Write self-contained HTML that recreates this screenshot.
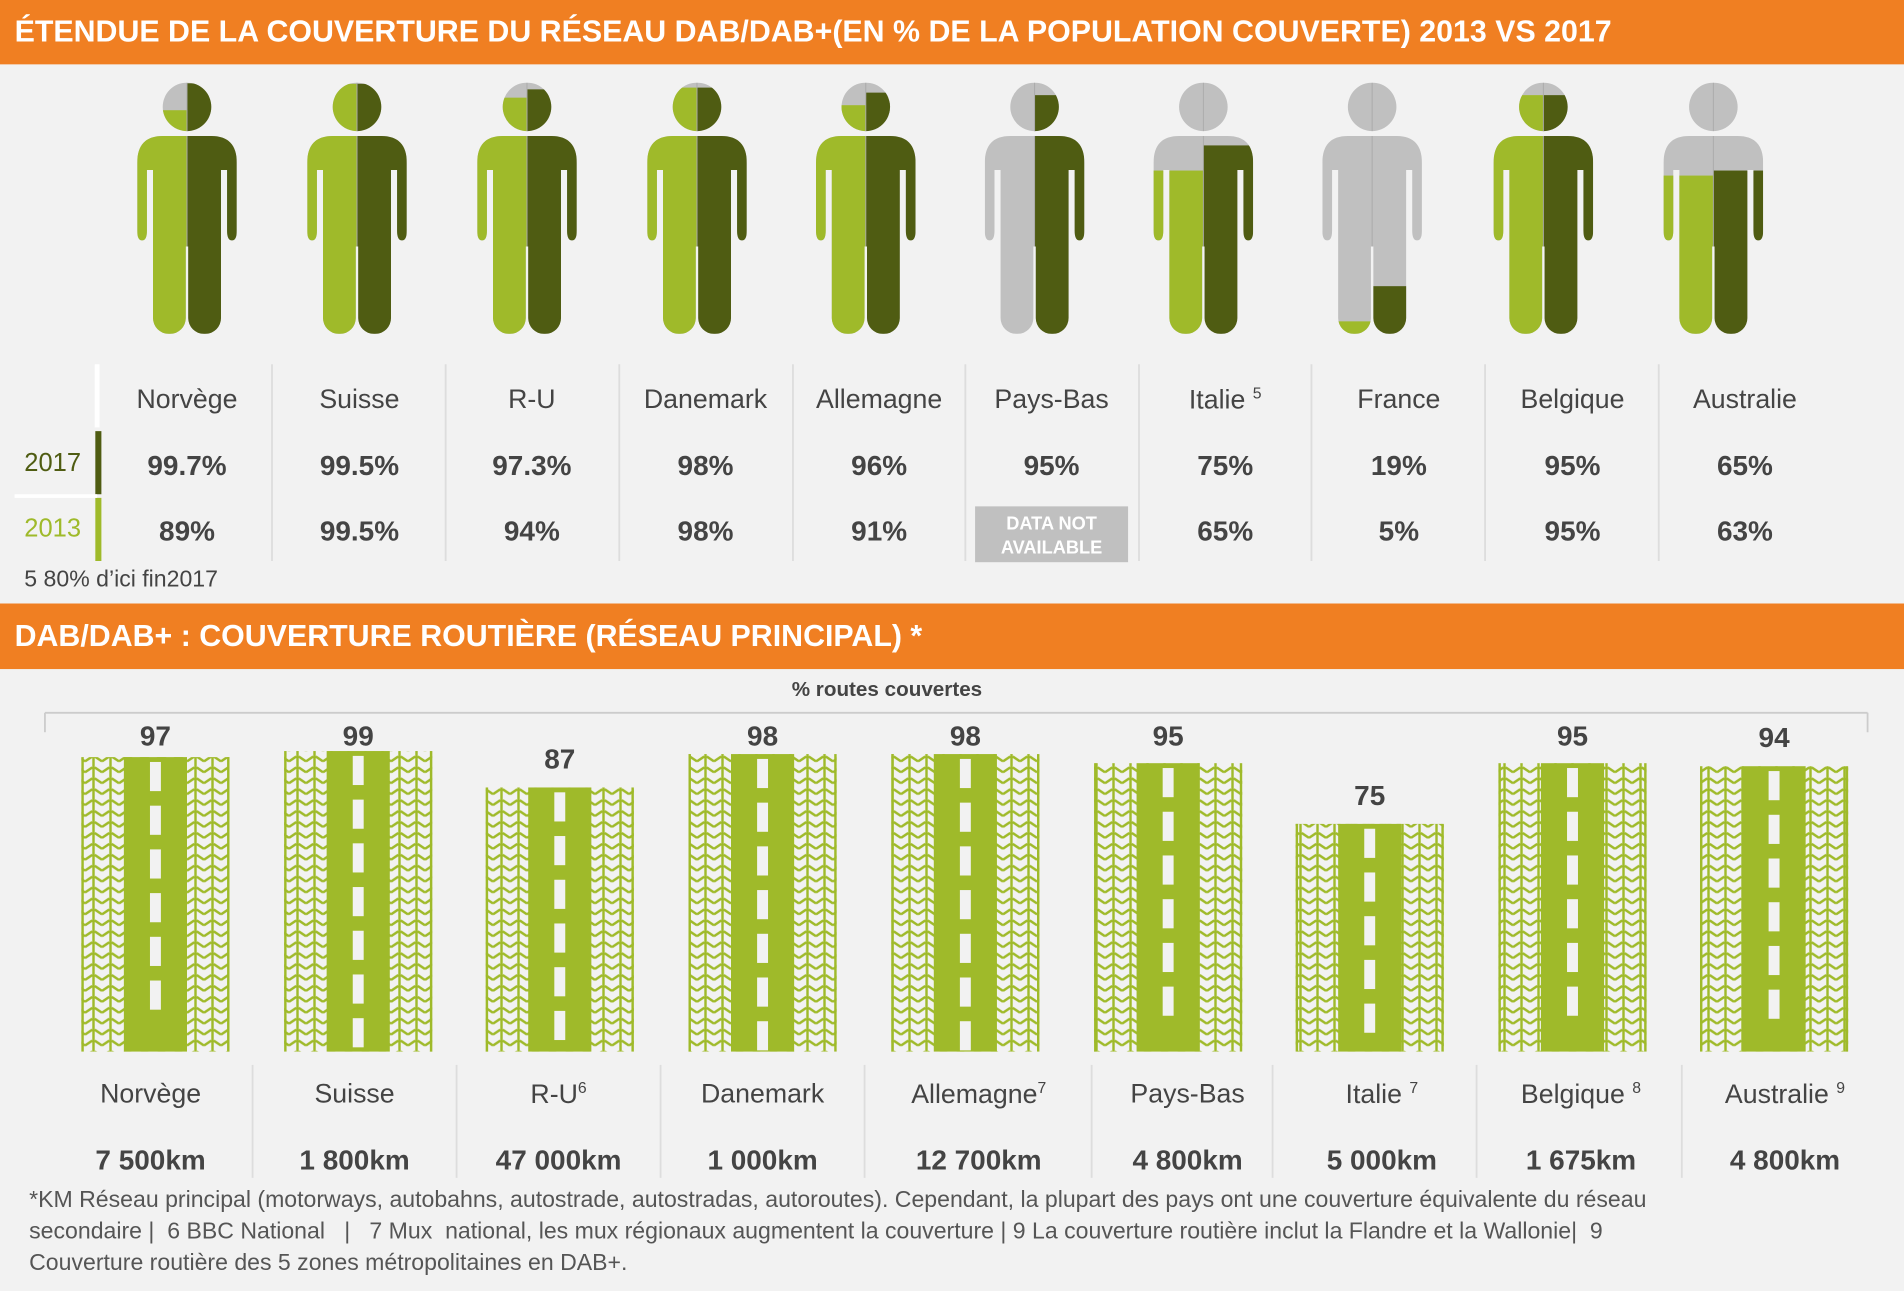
<!DOCTYPE html>
<html><head><meta charset="utf-8"><style>
html,body{margin:0;padding:0;background:#f2f2f2;overflow:hidden}
#w{width:1568px;height:1063px;position:relative;transform:scale(1.21429);transform-origin:0 0;font-family:"Liberation Sans",sans-serif;color:#444}
.bar{position:absolute;left:0;width:1568px;background:#f07f22;color:#fff;font-weight:bold;font-size:25px;line-height:52px;padding-left:12px;box-sizing:border-box}
.t{position:absolute;text-align:center;white-space:nowrap}
</style></head><body><div id="w">
<div class="bar" style="top:0;height:53px">ÉTENDUE DE LA COUVERTURE DU RÉSEAU DAB/DAB+(EN % DE LA POPULATION COUVERTE) 2013 VS 2017</div>
<div class="bar" style="top:497px;height:54px;line-height:54px">DAB/DAB+ : COUVERTURE ROUTIÈRE (RÉSEAU PRINCIPAL) *</div>
<svg width="1568" height="1063" style="position:absolute;left:0;top:0">
<defs>
<clipPath id="pc">
<circle cx="0" cy="20" r="20"/>
<path d="M-41,66 Q-41,44 -20,44 L20,44 Q41,44 41,66 L41,122 Q41,130 37,130 Q33,130 33,122 L33,72 L28,72 L28,135 L-28,135 L-28,72 L-33,72 L-33,122 Q-33,130 -37,130 Q-41,130 -41,122 Z"/>
<rect x="-28" y="60" width="27" height="147" rx="13"/>
<rect x="1" y="60" width="27" height="147" rx="13"/>
</clipPath>
<pattern id="tread" width="14" height="9" patternUnits="userSpaceOnUse">
<rect x="6" y="0" width="2" height="9" fill="#9fba2a"/>
<path d="M0,6 L6,2 M8,2 L14,6" stroke="#9fba2a" stroke-width="2" fill="none"/>
</pattern>
</defs>
<g id="people"></g>
<g id="roads"></g>
<line x1="37" y1="587" x2="1538" y2="587" stroke="#ccc" stroke-width="1.5"/>
<line x1="37" y1="587" x2="37" y2="603" stroke="#ccc" stroke-width="1.5"/>
<line x1="1538" y1="587" x2="1538" y2="603" stroke="#ccc" stroke-width="1.5"/>
<line x1="80" y1="300" x2="80" y2="352" stroke="#fff" stroke-width="4"/>
<line x1="81" y1="355" x2="81" y2="407" stroke="#4f5c12" stroke-width="5"/>
<line x1="81" y1="410" x2="81" y2="462" stroke="#9fba2a" stroke-width="5"/>
<line x1="12" y1="408.5" x2="80" y2="408.5" stroke="#fff" stroke-width="3"/>
<g stroke="#ddd" stroke-width="1.5">
<line x1="224" y1="300" x2="224" y2="462"/><line x1="367" y1="300" x2="367" y2="462"/><line x1="510" y1="300" x2="510" y2="462"/><line x1="653" y1="300" x2="653" y2="462"/><line x1="795" y1="300" x2="795" y2="462"/><line x1="938" y1="300" x2="938" y2="462"/><line x1="1080" y1="300" x2="1080" y2="462"/><line x1="1223" y1="300" x2="1223" y2="462"/><line x1="1366" y1="300" x2="1366" y2="462"/>
<line x1="208" y1="877" x2="208" y2="970"/><line x1="376" y1="877" x2="376" y2="970"/><line x1="544" y1="877" x2="544" y2="970"/><line x1="712" y1="877" x2="712" y2="970"/><line x1="899" y1="877" x2="899" y2="970"/><line x1="1048" y1="877" x2="1048" y2="970"/><line x1="1216" y1="877" x2="1216" y2="970"/><line x1="1385" y1="877" x2="1385" y2="970"/>
</g>
<rect x="803" y="417" width="126" height="46" fill="#c0c0c0"/>
<text x="866" y="436" text-anchor="middle" fill="#fff" font-size="15" font-weight="bold" font-family="Liberation Sans">DATA NOT</text>
<text x="866" y="456" text-anchor="middle" fill="#fff" font-size="15" font-weight="bold" font-family="Liberation Sans">AVAILABLE</text>
</svg>
<div id="txt"></div>
<div class="t" style="left:20px;top:370px;font-size:21px;color:#4f5c12">2017</div>
<div class="t" style="left:20px;top:424px;font-size:21px;color:#9fba2a">2013</div>
<div class="t" style="left:20px;top:467px;font-size:19px">5 80% d’ici fin2017</div>
<div class="t" style="left:652px;top:558px;font-size:17px;font-weight:bold">% routes couvertes</div>
<div style="position:absolute;left:24px;top:976px;width:1500px;font-size:19px;line-height:26px;color:#555;white-space:nowrap">*KM Réseau principal (motorways, autobahns, autostrade, autostradas, autoroutes). Cependant, la plupart des pays ont une couverture équivalente du réseau<br>secondaire |&nbsp; 6 BBC National &nbsp; | &nbsp; 7 Mux &nbsp;national, les mux régionaux augmentent la couverture | 9 La couverture routière inclut la Flandre et la Wallonie| &nbsp;9<br>Couverture routière des 5 zones métropolitaines en DAB+.</div>
</div>
<script>
var NS="http://www.w3.org/2000/svg";
function el(p,n,a){var e=document.createElementNS(NS,n);for(var k in a)e.setAttribute(k,a[k]);p.appendChild(e);return e;}
var P=[["Norvège","99.7%","89%",99.7,89],["Suisse","99.5%","99.5%",99.5,99.5],["R-U","97.3%","94%",97.3,94],["Danemark","98%","98%",98,98],["Allemagne","96%","91%",96,91],["Pays-Bas","95%","",95,0],["Italie <sup style='font-size:13px'>5</sup>","75%","65%",75,65],["France","19%","5%",19,5],["Belgique","95%","95%",95,95],["Australie","65%","63%",65,63]];
var px=[154,294,434,574,713,852,991,1130,1271,1411];
var tx=[154,296,438,581,724,866,1009,1152,1295,1437];
var g=document.getElementById("people"),T=document.getElementById("txt"),h="";
P.forEach(function(d,i){
 var G=el(g,"g",{transform:"translate("+px[i]+",68)"});
 var C=el(G,"g",{"clip-path":"url(#pc)"});
 el(C,"rect",{x:-45,y:0,width:90,height:210,fill:"#c0c0c0"});
 el(C,"rect",{x:-45,y:207-2.07*d[4],width:45,height:2.07*d[4]+3,fill:"#9fba2a"});
 el(C,"rect",{x:0,y:207-2.07*d[3],width:45,height:2.07*d[3]+3,fill:"#4f5c12"});
 el(G,"line",{x1:0,y1:0,x2:0,y2:207,stroke:"#aaa","stroke-width":0.8,"clip-path":"url(#pc)"});
 h+="<div class='t' style='left:"+(tx[i]-70)+"px;width:140px;top:316px;font-size:22px'>"+d[0]+"</div>";
 h+="<div class='t' style='left:"+(tx[i]-70)+"px;width:140px;top:370px;font-size:23px;font-weight:bold'>"+d[1]+"</div>";
 if(d[2])h+="<div class='t' style='left:"+(tx[i]-70)+"px;width:140px;top:424px;font-size:23px;font-weight:bold'>"+d[2]+"</div>";
});
var R=[["Norvège","7 500km",97],["Suisse","1 800km",99],["R-U<sup style='font-size:13px'>6</sup>","47 000km",87],["Danemark","1 000km",98],["Allemagne<sup style='font-size:13px'>7</sup>","12 700km",98],["Pays-Bas","4 800km",95],["Italie <sup style='font-size:13px'>7</sup>","5 000km",75],["Belgique <sup style='font-size:13px'>8</sup>","1 675km",95],["Australie <sup style='font-size:13px'>9</sup>","4 800km",94]];
var rx=[128,295,461,628,795,962,1128,1295,1461];
var lx=[124,292,460,628,806,978,1138,1302,1470];
var rg=document.getElementById("roads");
R.forEach(function(d,i){
 var H=d[2]*2.5,top=866-H,x0=rx[i]-61;
 el(rg,"rect",{x:x0,y:top,width:122,height:H,fill:"url(#tread)"});
 el(rg,"rect",{x:x0,y:top,width:2,height:H,fill:"#9fba2a"});
 el(rg,"rect",{x:x0+120,y:top,width:2,height:H,fill:"#9fba2a"});
 el(rg,"rect",{x:x0+35,y:top,width:52,height:H,fill:"#9fba2a"});
 for(var y=top+4;y+24<866;y+=36)el(rg,"rect",{x:rx[i]-4.5,y:y,width:9,height:24,fill:"#f2f2f2"});
 var ly=Math.max(top-24,606)-13;
 h+="<div class='t' style='left:"+(rx[i]-50)+"px;width:100px;top:"+ly+"px;font-size:23px;font-weight:bold'>"+d[2]+"</div>";
 h+="<div class='t' style='left:"+(lx[i]-80)+"px;width:160px;top:888px;font-size:22px'>"+d[0]+"</div>";
 h+="<div class='t' style='left:"+(lx[i]-80)+"px;width:160px;top:942px;font-size:23px;font-weight:bold'>"+d[1]+"</div>";
});
T.innerHTML=h;
</script>
</body></html>
